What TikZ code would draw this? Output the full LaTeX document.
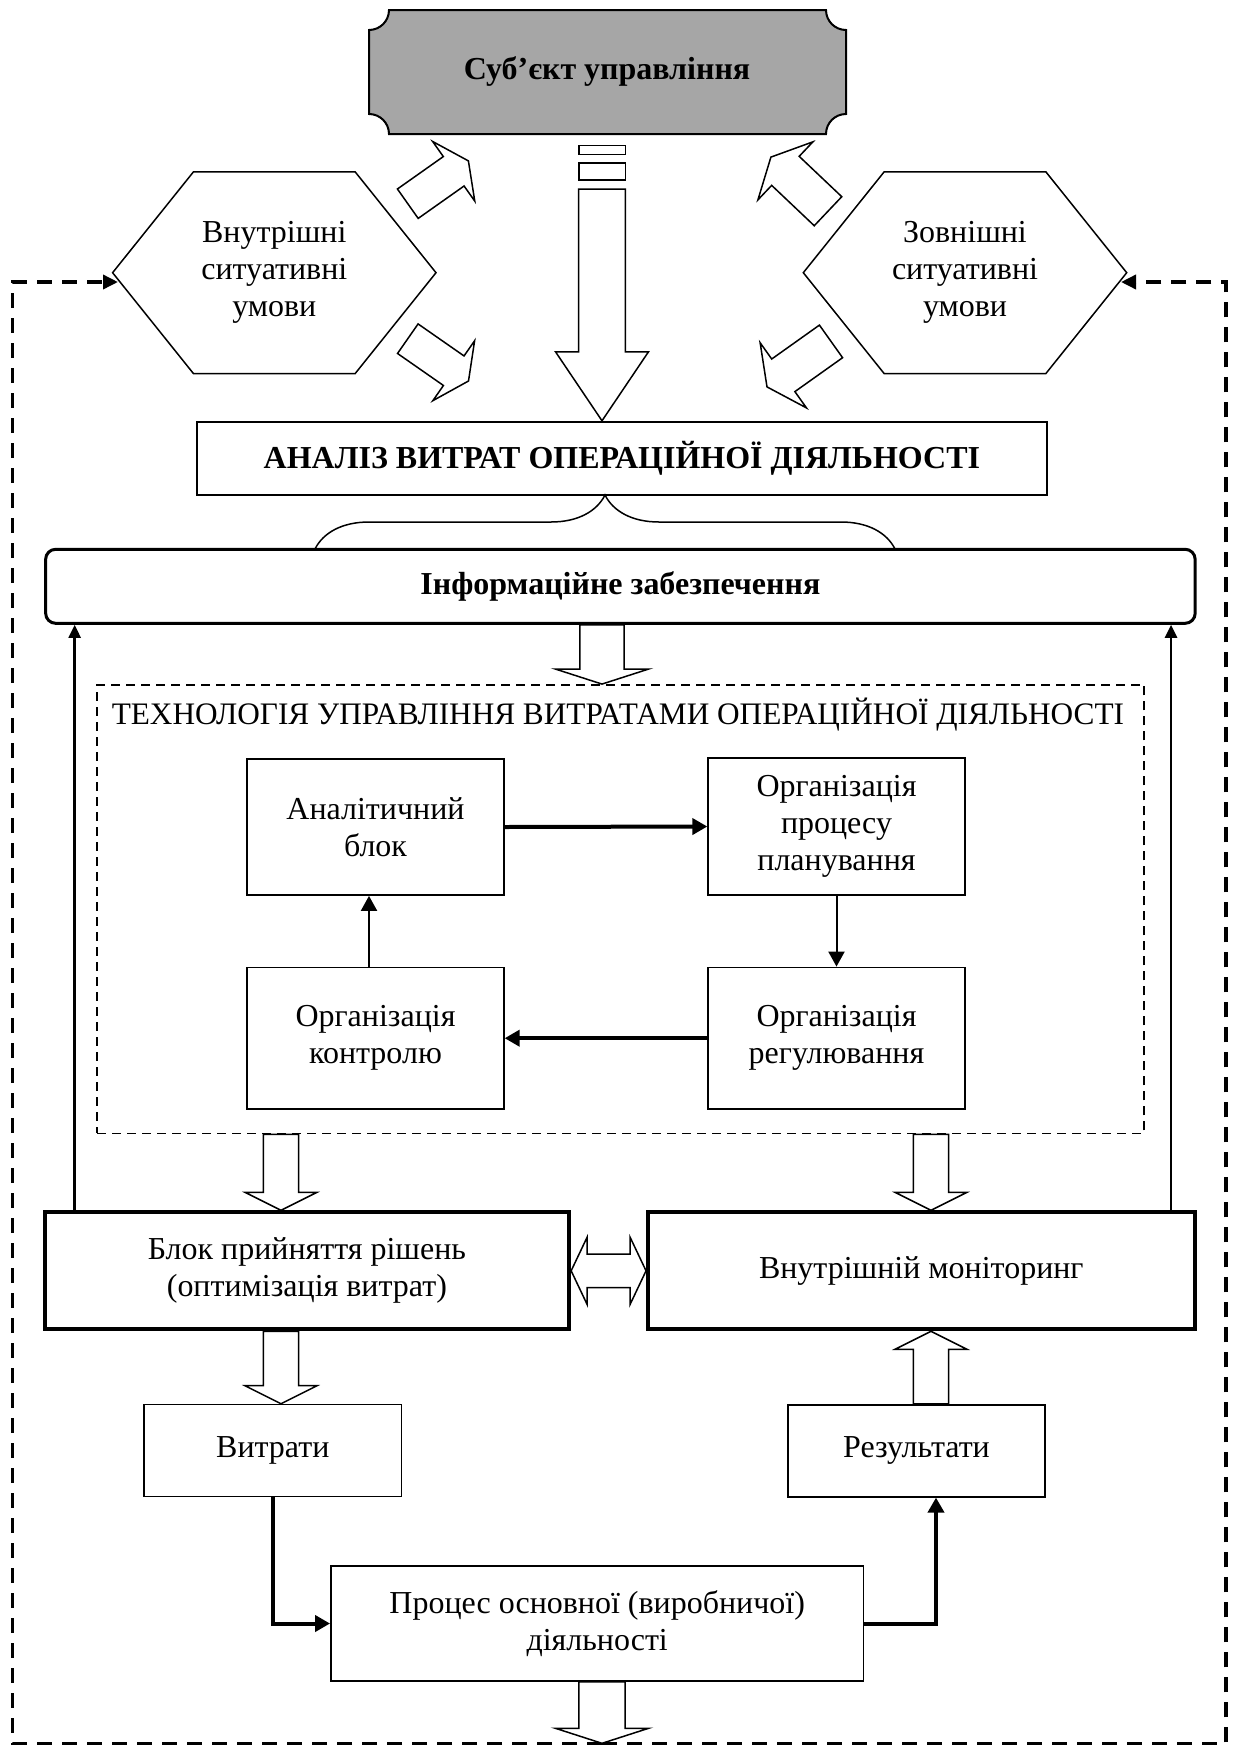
\documentclass[tikz,border=0pt]{standalone}
\usepackage{fontspec}
\setmainfont{Liberation Serif}
\usetikzlibrary{arrows.meta,calc,decorations.pathreplacing}
\definecolor{subjgray}{RGB}{166,166,166}
\newcommand{\basefont}{\fontsize{18.2}{21}\selectfont}
\tikzset{
  box/.style={draw, line width=0.35mm, inner sep=0pt, align=center},
  thickbox/.style={box, line width=0.8mm},
  infobox/.style={box, line width=0.6mm, rounded corners=2mm, font=\basefont\bfseries},
  techbox/.style={draw, line width=0.35mm, dash pattern=on 1.8mm off 1.2mm, inner sep=0pt},
  loopline/.style={line width=0.7mm, dash pattern=on 3mm off 2mm, -{Triangle[length=3mm,width=2.8mm]}},
  arr/.style={-{Triangle[length=3mm,width=3.2mm]}},
  hollow/.style n args={3}{draw, fill=white, line width=0.3mm, to path={
    ($(\tikztostart)!#1!90:(\tikztotarget)$)
    -- ($($(\tikztotarget)!#3!(\tikztostart)$)!#1!90:(\tikztotarget)$)
    -- ($($(\tikztotarget)!#3!(\tikztostart)$)!#2!90:(\tikztotarget)$)
    -- (\tikztotarget)
    -- ($($(\tikztotarget)!#3!(\tikztostart)$)!#2!-90:(\tikztotarget)$)
    -- ($($(\tikztotarget)!#3!(\tikztostart)$)!#1!-90:(\tikztotarget)$)
    -- ($(\tikztostart)!#1!-90:(\tikztotarget)$)
    -- cycle}},
  twoway/.style n args={3}{draw, fill=white, line width=0.3mm, to path={
    (\tikztostart)
    -- ($($(\tikztostart)!#3!(\tikztotarget)$)!#2!90:(\tikztotarget)$)
    -- ($($(\tikztostart)!#3!(\tikztotarget)$)!#1!90:(\tikztotarget)$)
    -- ($($(\tikztotarget)!#3!(\tikztostart)$)!#1!90:(\tikztotarget)$)
    -- ($($(\tikztotarget)!#3!(\tikztostart)$)!#2!90:(\tikztotarget)$)
    -- (\tikztotarget)
    -- ($($(\tikztotarget)!#3!(\tikztostart)$)!#2!-90:(\tikztotarget)$)
    -- ($($(\tikztotarget)!#3!(\tikztostart)$)!#1!-90:(\tikztotarget)$)
    -- ($($(\tikztostart)!#3!(\tikztotarget)$)!#1!-90:(\tikztotarget)$)
    -- ($($(\tikztostart)!#3!(\tikztotarget)$)!#2!-90:(\tikztotarget)$)
    -- cycle}},
  smallarrow/.style={hollow={3.54mm}{7.2mm}{3.6mm}}
}
\begin{document}
\begin{tikzpicture}[x=0.2mm,y=-0.2mm,font=\basefont]
  \useasboundingbox (0,0) rectangle (1235,1747);
  \coordinate (axis) at (602,0);
  \coordinate (lcol) at (281,0);
  \coordinate (rcol) at (931,0);
  \coordinate (arrtop) at (602,189);
  \coordinate (loop) at (602,1743.3);
  \coordinate (loopL) at (12.7,282);
  \coordinate (loopR) at (1226,282);
  \coordinate (inL) at (118,282);
  \coordinate (inR) at (1121,282);
  \coordinate (luS) at (407.8,203.7);
  \coordinate (luT) at (468.4,160.9);
  \coordinate (llS) at (407.8,338.7);
  \coordinate (llT) at (468.5,381);
  \coordinate (ruS) at (828,211.2);
  \coordinate (ruT) at (770.9,157.1);
  \coordinate (rlS) at (831,341.4);
  \coordinate (rlT) at (767,386.9);

  \draw[loopline] (loop) -| (loopL) -- (inL);
  \draw[loopline] (loop) -| (loopR) -- (inR);

  \filldraw[fill=subjgray, line width=0.4mm] (389,10) -- (826,10)
    arc[start angle=180, end angle=90, radius=20] -- (846,114)
    arc[start angle=270, end angle=180, radius=20] -- (389,134)
    arc[start angle=0, end angle=-90, radius=20] -- (369,30)
    arc[start angle=90, end angle=0, radius=20] -- cycle;
  \node[font=\basefont\bfseries] (subj) at (607,72) {Суб’єкт управління};

  \node[align=center] (hexL) at (274.3,272.7) {Внутрішні\\ситуативні\\умови};
  \node[align=center] (hexR) at (965,272.7) {Зовнішні\\ситуативні\\умови};
  \draw[line width=0.3mm, shift={(hexL)}] (-161.7,0) -- (-80.9,-100.8) -- (80.9,-100.8)
    -- (161.7,0) -- (80.9,100.8) -- (-80.9,100.8) -- cycle;
  \draw[line width=0.3mm, shift={(hexR)}] (-161.7,0) -- (-80.9,-100.8) -- (80.9,-100.8)
    -- (161.7,0) -- (80.9,100.8) -- (-80.9,100.8) -- cycle;

  \node[box, font=\basefont\bfseries, minimum width=170mm, minimum height=14.7mm] (anal) at (621.9,458.4) {АНАЛІЗ ВИТРАТ ОПЕРАЦІЙНОЇ ДІЯЛЬНОСТІ};
  \node[infobox, minimum width=229.9mm, minimum height=14.8mm] (info) at (620.4,586.3) {Інформаційне забезпечення};
  \draw[line width=0.3mm, decorate, decoration={brace, amplitude=10.8mm}] (315,549) -- (895,549);

  \draw[line width=0.3mm, fill=white] (579,145.7) rectangle (625.7,154.3);
  \draw[line width=0.3mm, fill=white] (579,163) rectangle (625.7,180);
  \draw[hollow={4.66mm}{9.3mm}{13.8mm}] (arrtop) to (anal.north -| axis);
  \draw[hollow={3.6mm}{7.3mm}{3.6mm}] (luS) to (luT);
  \draw[hollow={3.6mm}{7.3mm}{3.6mm}] (llS) to (llT);
  \draw[hollow={4mm}{8mm}{4mm}] (ruS) to (ruT);
  \draw[hollow={4mm}{8mm}{4mm}] (rlS) to (rlT);

  \node[techbox, minimum width=209.4mm, minimum height=89.7mm] (tech) at (620.6,909.2) {};
  \node[font=\fontsize{17.8}{21}\selectfont] (techtitle) at (618,715) {ТЕХНОЛОГІЯ УПРАВЛІННЯ ВИТРАТАМИ ОПЕРАЦІЙНОЇ ДІЯЛЬНОСТІ};
  \draw[hollow={4.44mm}{9.3mm}{3mm}] (info.south -| axis) to (tech.north -| axis);

  \node[box, minimum width=51.3mm, minimum height=27.2mm] (analyt) at (375.5,827) {Аналітичний\\блок};
  \node[box, minimum width=51.3mm, minimum height=27.4mm] (plan) at (836.5,826.5) {Організація\\процесу\\планування};
  \node[box, minimum width=51.3mm, minimum height=28.3mm] (control) at (375.5,1038.2) {Організація\\контролю};
  \node[box, minimum width=51.3mm, minimum height=28.3mm] (regul) at (836.5,1038.2) {Організація\\регулювання};
  \draw[line width=0.8mm, arr] (analyt.east) -- (plan.west);
  \draw[line width=0.4mm, arr] (plan.south) -- (regul.north);
  \draw[line width=0.8mm, arr] (regul.west) -- (control.east);
  \draw[line width=0.4mm, arr] ([xshift=-1.3mm]control.north) -- ([xshift=-1.3mm]analyt.south);

  \node[thickbox, minimum width=104.9mm, minimum height=23.4mm] (blok) at (306.9,1270.8) {Блок прийняття рішень\\(оптимізація витрат)};
  \node[thickbox, minimum width=109.3mm, minimum height=23.4mm] (monitor) at (921.3,1270.8) {Внутрішній моніторинг};
  \node[box, minimum width=51.5mm, minimum height=18.4mm] (costs) at (272.8,1450.6) {Витрати};
  \node[box, minimum width=51.5mm, minimum height=18.4mm] (results) at (916.5,1450.7) {Результати};
  \node[box, minimum width=106.5mm, minimum height=23mm] (process) at (597.2,1623.5) {Процес основної (виробничої)\\діяльності};

  \coordinate (upL) at ([xshift=6.4mm]blok.north west);
  \coordinate (upR) at ([xshift=-5.1mm]monitor.north east);
  \draw[line width=0.5mm, -{Triangle[length=2.6mm,width=2.4mm]}] (upL) -- (upL |- info.south);
  \draw[line width=0.5mm, -{Triangle[length=2.6mm,width=2.4mm]}] (upR) -- (upR |- info.south);

  \draw[smallarrow] (tech.south -| lcol) to (blok.north -| lcol);
  \draw[smallarrow] (tech.south -| rcol) to (monitor.north -| rcol);
  \draw[smallarrow] (blok.south -| lcol) to (costs.north -| lcol);
  \draw[smallarrow] (results.north -| rcol) to (monitor.south -| rcol);
  \draw[twoway={3.34mm}{6.74mm}{3.2mm}] (blok.east) to (monitor.west);

  \draw[line width=0.8mm, arr] (costs.south) |- (process.west);
  \draw[line width=0.8mm, arr] (process.east) -| ([xshift=3.9mm]results.south);
  \draw[hollow={4.64mm}{9.3mm}{3mm}] (process.south -| axis) to (loop);
\end{tikzpicture}
\end{document}
